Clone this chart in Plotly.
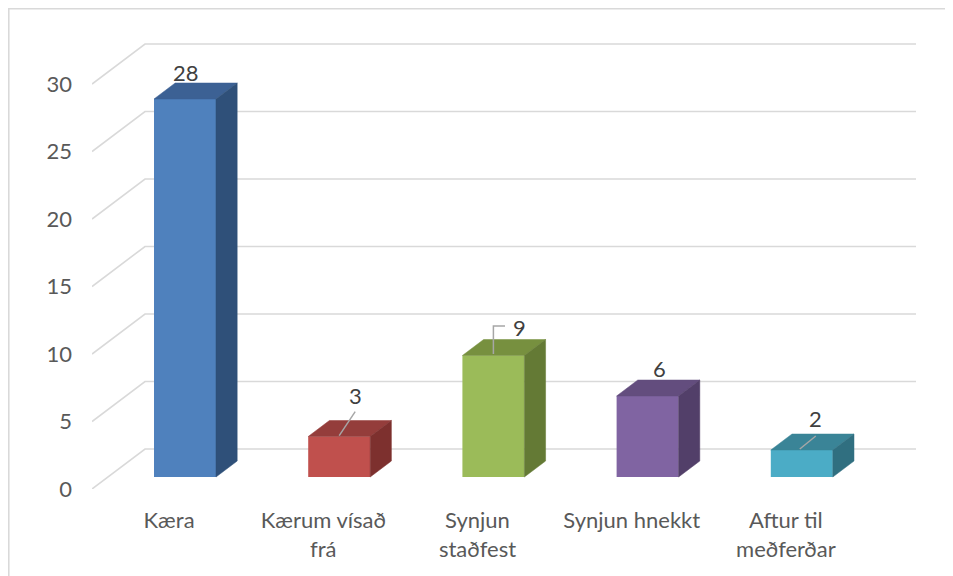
import plotly.graph_objects as go

# ---------------- data ----------------
categories = ["Kæra", "Kærum vísað<br>frá", "Synjun<br>staðfest", "Synjun hnekkt", "Aftur til<br>meðferðar"]
values = [28, 3, 9, 6, 2]
y_tick_values = [0, 5, 10, 15, 20, 25, 30]
y_tick_labels = ["0", "5", "10", "15", "20", "25", "30"]

# ---------------- styles ----------------
front_colors = ["#4F81BD", "#C0504D", "#9BBB59", "#8064A2", "#4BACC6"]
top_colors = ["#3C6194", "#943D3B", "#77903F", "#634D7E", "#3A8497"]
side_colors = ["#2F5079", "#7D302E", "#647A35", "#523F69", "#306F80"]
FONT = "Lato"
FONT_SIZE = 22
TICK_COLOR = "#595959"
LABEL_COLOR = "#404040"
GRID_COLOR = "#D9D9D9"
LEADER_COLOR = "#A6A6A6"

# 3-D projection (depth offsets expressed in axis units)
DEPTH_X = 0.3437     # category units
DEPTH_Y = 2.963      # value units
Z_FRONT, Z_BACK = 0.3, 0.7
BAR_W = 0.402

n = len(values)
x_pos = [i + Z_FRONT * DEPTH_X for i in range(n)]
base = Z_FRONT * DEPTH_Y
ddx = (Z_BACK - Z_FRONT) * DEPTH_X
ddy = (Z_BACK - Z_FRONT) * DEPTH_Y

fig = go.Figure()

# front faces
fig.add_trace(go.Bar(
    x=x_pos, y=values, base=base, width=BAR_W,
    marker=dict(color=front_colors, line=dict(width=0)),
    hoverinfo="skip", showlegend=False,
))

# top and side faces
for i, v in enumerate(values):
    xl = x_pos[i] - BAR_W / 2
    xr = x_pos[i] + BAR_W / 2
    top = base + v
    fig.add_trace(go.Scatter(
        x=[xl, xr, xr + ddx, xl + ddx, xl],
        y=[top, top, top + ddy, top + ddy, top],
        mode="lines", fill="toself", fillcolor=top_colors[i],
        line=dict(width=0.5, color=top_colors[i]),
        hoverinfo="skip", showlegend=False,
    ))
    fig.add_trace(go.Scatter(
        x=[xr, xr + ddx, xr + ddx, xr, xr],
        y=[base, base + ddy, top + ddy, top, base],
        mode="lines", fill="toself", fillcolor=side_colors[i],
        line=dict(width=0.5, color=side_colors[i]),
        hoverinfo="skip", showlegend=False,
    ))

shapes = []
# perspective gridlines (side wall diagonal + back wall)
x_left = -0.5
x_right = n - 0.5
for v in y_tick_values:
    shapes.append(dict(
        type="path", xref="x", yref="y", layer="below",
        path=f"M{x_left},{v} L{x_left + DEPTH_X},{v + DEPTH_Y} L{x_right + DEPTH_X},{v + DEPTH_Y}",
        line=dict(color=GRID_COLOR, width=1.6),
    ))

# data labels
label_offsets = [(1, 26), (16, 41.5), (25.6, 28.5), (11.4, 28), (14, 32)]
annotations = []
for i, v in enumerate(values):
    dx, dy = label_offsets[i]
    annotations.append(dict(
        x=x_pos[i], y=base + v, xref="x", yref="y", text=str(v),
        showarrow=False, xshift=dx, yshift=dy,
        font=dict(family=FONT, size=FONT_SIZE, color=LABEL_COLOR),
    ))

# leader lines for moved labels (pixel offsets from the bar top)
leader_paths = {1: "M16,24.8 L0,0.8", 2: "M11.6,29.5 L0,29.5 L0,1.5", 4: "M14,14 L-2,1"}
for i, p in leader_paths.items():
    shapes.append(dict(
        type="path", xref="x", yref="y", xsizemode="pixel", ysizemode="pixel",
        xanchor=x_pos[i], yanchor=base + values[i], path=p,
        line=dict(color=LEADER_COLOR, width=1.5),
    ))

# chart border (figure's own left/top edges)
shapes.append(dict(
    type="rect", xref="paper", yref="paper",
    x0=-0.1010, x1=1.2, y0=-0.4, y1=1.0240,
    line=dict(color=GRID_COLOR, width=1.6), fillcolor="rgba(0,0,0,0)",
))

fig.update_layout(
    width=953, height=576,
    margin=dict(l=84, r=45, t=12, b=95),
    paper_bgcolor="white", plot_bgcolor="white",
    showlegend=False,
    shapes=shapes, annotations=annotations,
    font=dict(family=FONT, size=FONT_SIZE, color=TICK_COLOR),
    xaxis=dict(
        range=[x_left, x_right + DEPTH_X], tickvals=list(range(n)), ticktext=categories,
        tickangle=0, showgrid=False, zeroline=False, showline=False, ticks="",
        ticklabelstandoff=16, tickfont=dict(family=FONT, size=FONT_SIZE, color=TICK_COLOR),
        fixedrange=True,
    ),
    yaxis=dict(
        range=[0, 34.74], tickvals=y_tick_values, ticktext=y_tick_labels,
        showgrid=False, zeroline=False, showline=False, ticks="",
        ticklabelstandoff=19, tickfont=dict(family=FONT, size=FONT_SIZE, color=TICK_COLOR),
        fixedrange=True,
    ),
)

fig.write_html("out.html")
